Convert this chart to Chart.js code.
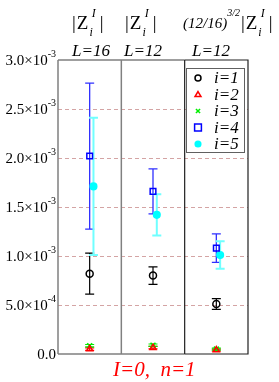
<!DOCTYPE html>
<html>
<head>
<meta charset="utf-8">
<script src="https://cdn.jsdelivr.net/npm/chart.js@4.4.0/dist/chart.umd.min.js"></script>
<style>
  html, body { margin: 0; padding: 0; background: #ffffff; }
  #wrap { position: relative; width: 279px; height: 382px; }
</style>
</head>
<body>
<div id="wrap"><canvas id="chart" width="279" height="382"></canvas></div>
<script>
// panels (x = 0.5, 1.5, 2.5)
const panelLabels = ['L=16', 'L=12', 'L=12'];
const panelCenters = [0.5, 1.5, 2.5];

// series values and errors, per panel
const seriesLabels = ['i=1', 'i=2', 'i=3', 'i=4', 'i=5'];
const z1 = [0.00082, 0.00080, 0.00051];
const z1Err = [0.00021, 0.00009, 0.000055];
const z2 = [0.00005, 0.000065, 0.00004];
const z2Err = [0.000012, 0.000012, 0.00001];
const z3 = [0.000085, 0.00009, 0.00005];
const z3Err = [0.000012, 0.000012, 0.00001];
const z4 = [0.00202, 0.00166, 0.00108];
const z4Err = [0.000745, 0.00023, 0.000145];
const z5 = [0.00171, 0.00142, 0.00101];
const z5Err = [0.0007, 0.00021, 0.00014];
const xShift = [0, 0, 0, 0, 0.06];

// y tick labels
const yTicks = [0, 0.0005, 0.001, 0.0015, 0.002, 0.0025, 0.003];
const yTickText = [['0.0', ''], ['5.0\u00d710', '-4'], ['1.0\u00d710', '-3'], ['1.5\u00d710', '-3'],
                   ['2.0\u00d710', '-3'], ['2.5\u00d710', '-3'], ['3.0\u00d710', '-3']];

const SERIF = '"Liberation Serif", "DejaVu Serif", serif';

const values = [z1, z2, z3, z4, z5];
const errors = [z1Err, z2Err, z3Err, z4Err, z5Err];
const colors = ['#000000', '#ff0000', '#00ee00', '#0000ff', '#00ffff'];
const barColors = ['#000000', '#ff0000', '#00ee00', '#3030ff', '#70ffff'];
const barWidths = [1.2, 1.2, 1.2, 1.3, 2];
const styles = ['circle', 'triangle', 'crossRot', 'rect', 'circle'];
const radii = [3.5, 3.5, 3.5, 4, 3.3];
const fills = ['rgba(0,0,0,0)', 'rgba(0,0,0,0)', '#00ee00', 'rgba(0,0,0,0)', '#00ffff'];

const datasets = seriesLabels.map((lab, k) => ({
  label: lab,
  data: values[k].map((v, p) => ({ x: panelCenters[p] + xShift[k], y: v })),
  errs: errors[k],
  pointStyle: styles[k],
  pointRadius: radii[k],
  borderColor: colors[k],
  backgroundColor: fills[k],
  pointBackgroundColor: fills[k],
  pointBorderWidth: 1.5,
  barColor: barColors[k],
  barWidth: barWidths[k],
  showLine: false
}));

// draw text made of pieces: [text, font, dy, extra gap]
function drawRuns(ctx, x, y, runs, color) {
  ctx.fillStyle = color || '#000';
  ctx.textAlign = 'left';
  ctx.textBaseline = 'alphabetic';
  runs.forEach(r => {
    ctx.font = r[1];
    ctx.fillText(r[0], x, y + (r[2] || 0));
    x += ctx.measureText(r[0]).width + (r[3] || 0);
  });
}

const errorBars = {
  id: 'errorBars',
  beforeDatasetsDraw(chart) {
    const ctx = chart.ctx;
    const ys = chart.scales.y;
    chart.data.datasets.forEach((ds, k) => {
      const meta = chart.getDatasetMeta(k);
      ctx.save();
      ctx.strokeStyle = ds.barColor;
      ctx.lineWidth = ds.barWidth;
      meta.data.forEach((pt, p) => {
        const v = ds.data[p].y, e = ds.errs[p];
        const yt = ys.getPixelForValue(v + e), yb = ys.getPixelForValue(v - e);
        const x = pt.x;
        ctx.beginPath();
        ctx.moveTo(x, yt); ctx.lineTo(x, yb);
        ctx.moveTo(x - 4.5, yt); ctx.lineTo(x + 4.5, yt);
        ctx.moveTo(x - 4.5, yb); ctx.lineTo(x + 4.5, yb);
        ctx.stroke();
      });
      ctx.restore();
    });
  }
};

const decorations = {
  id: 'decorations',
  beforeDatasetsDraw(chart) {
    const { ctx, chartArea: a, scales: { x: xs, y: ys } } = chart;
    ctx.save();
    // dashed grid lines
    ctx.strokeStyle = '#d4a4a4';
    ctx.lineWidth = 1;
    ctx.setLineDash([4, 3]);
    yTicks.slice(1, -1).forEach(v => {
      const y = Math.round(ys.getPixelForValue(v)) + 0.5;
      ctx.beginPath(); ctx.moveTo(a.left, y); ctx.lineTo(a.right, y); ctx.stroke();
    });
    ctx.setLineDash([]);

    // frame
    ctx.lineWidth = 1.5;
    ctx.strokeStyle = '#808080';
    ctx.beginPath();
    ctx.moveTo(a.left, a.top); ctx.lineTo(xs.getPixelForValue(2), a.top);
    ctx.moveTo(a.left, a.top); ctx.lineTo(a.left, a.bottom);
    ctx.moveTo(a.left, a.bottom); ctx.lineTo(xs.getPixelForValue(2), a.bottom);
    ctx.moveTo(xs.getPixelForValue(1), a.top); ctx.lineTo(xs.getPixelForValue(1), a.bottom);
    ctx.stroke();
    ctx.strokeStyle = '#202020';
    ctx.lineWidth = 1.2;
    ctx.beginPath();
    ctx.moveTo(xs.getPixelForValue(2), a.top); ctx.lineTo(a.right, a.top);
    ctx.lineTo(a.right, a.bottom); ctx.lineTo(xs.getPixelForValue(2), a.bottom);
    ctx.moveTo(xs.getPixelForValue(2), a.top); ctx.lineTo(xs.getPixelForValue(2), a.bottom);
    ctx.stroke();

    // y tick labels with superscript exponent
    yTicks.forEach((v, i) => {
      const y = ys.getPixelForValue(v) + 5;
      const [base, sup] = yTickText[i];
      ctx.font = '15px ' + SERIF;
      const wb = ctx.measureText(base).width;
      ctx.font = '10px ' + SERIF;
      const ws = ctx.measureText(sup).width;
      const x0 = a.left - 2 - wb - ws;
      drawRuns(ctx, x0, y, [[base, '15px ' + SERIF, 0], [sup, '10px ' + SERIF, -8]]);
    });

    // column headers
    const up = '19px ' + SERIF;
    const sm = 'italic 12px ' + SERIF;
    const zRuns = [['|', up, 0, 1], ['Z', up, 0, 1], ['i', sm, 7, -1], ['I', sm, -12, 4], ['|', up, 0]];
    drawRuns(ctx, 72, 29, zRuns);
    drawRuns(ctx, 125, 29, zRuns);
    drawRuns(ctx, 183, 29, [['(12/16)', 'italic 15px ' + SERIF, -1], ['3/2', 'italic 10px ' + SERIF, -13, 1]].concat(zRuns));

    // L labels
    panelLabels.forEach((t, p) => {
      const xs0 = [72, 124, 192][p];
      drawRuns(ctx, xs0, 56, [[t, 'italic 17px ' + SERIF, 0]]);
    });

    // bottom label
    drawRuns(ctx, 113, 376, [['I=0,  n=1', 'italic 21px ' + SERIF, 0]], '#ff0000');
    ctx.restore();
  },
  afterDraw(chart) {
    const ctx = chart.ctx;
    ctx.save();
    // legend box inside third panel
    const lx = 186, ly = 68, lw = 58, lh = 84;
    ctx.fillStyle = '#ffffff';
    ctx.fillRect(lx, ly, lw, lh);
    ctx.strokeStyle = '#606060';
    ctx.lineWidth = 1;
    ctx.strokeRect(lx + 0.5, ly + 0.5, lw, lh);
    chart.data.datasets.forEach((ds, k) => {
      const cy = ly + 10 + k * 16.5;
      const cx = lx + 12;
      const r = ds.pointRadius * 0.85;
      ctx.fillStyle = ds.backgroundColor;
      ctx.strokeStyle = ds.borderColor;
      ctx.lineWidth = 1.5;
      ctx.beginPath();
      if (ds.pointStyle === 'circle') { ctx.arc(cx, cy, r, 0, Math.PI * 2); }
      else if (ds.pointStyle === 'rect') { ctx.rect(cx - r, cy - r, 2 * r, 2 * r); }
      else if (ds.pointStyle === 'triangle') {
        ctx.moveTo(cx, cy - r); ctx.lineTo(cx + r, cy + r * 0.7); ctx.lineTo(cx - r, cy + r * 0.7); ctx.closePath();
      } else {
        ctx.moveTo(cx - r * 0.7, cy - r * 0.7); ctx.lineTo(cx + r * 0.7, cy + r * 0.7);
        ctx.moveTo(cx + r * 0.7, cy - r * 0.7); ctx.lineTo(cx - r * 0.7, cy + r * 0.7);
      }
      ctx.fill();
      ctx.stroke();
      drawRuns(ctx, lx + 28, cy + 5, [[ds.label, 'italic 17px ' + SERIF, 0]]);
    });
    ctx.restore();
  }
};

new Chart(document.getElementById('chart'), {
  type: 'scatter',
  data: { datasets },
  options: {
    responsive: false,
    animation: false,
    events: [],
    layout: { padding: { left: 0, top: 60, right: 31, bottom: 28 } },
    plugins: { legend: { display: false }, tooltip: { enabled: false } },
    scales: {
      x: {
        type: 'linear', min: 0, max: 3,
        ticks: { display: false },
        grid: { display: false },
        border: { display: false },
        afterFit: s => { s.height = 0; }
      },
      y: {
        type: 'linear', min: 0, max: 0.003,
        ticks: { display: false, stepSize: 0.0005 },
        grid: { display: false },
        border: { display: false },
        afterFit: s => { s.width = 58; }
      }
    }
  },
  plugins: [decorations, errorBars]
});
</script>
</body>
</html>
